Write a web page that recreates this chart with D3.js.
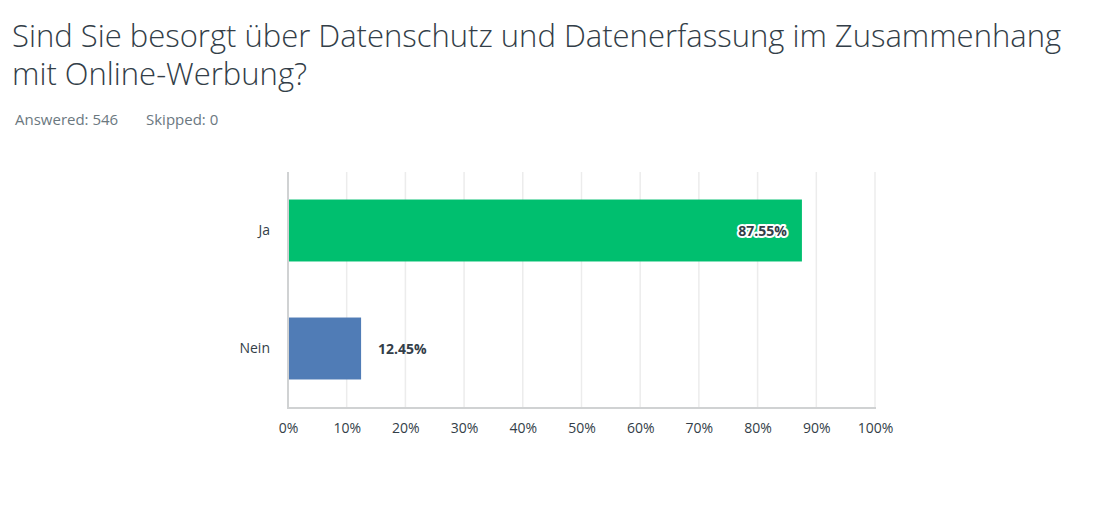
<!DOCTYPE html>
<html><head><meta charset="utf-8">
<script src="https://cdn.jsdelivr.net/npm/d3@7"></script>
<style>
body{margin:0;background:#fff;}
svg{display:block;}
</style></head>
<body><svg id="c" width="1106" height="513"></svg>
<script>
const titleLines = ["Sind Sie besorgt über Datenschutz und Datenerfassung im Zusammenhang", "mit Online-Werbung?"];
const answered = "Answered: 546";
const skipped = "Skipped: 0";
const categories = ["Ja", "Nein"];
const values = [87.55, 12.45];
const colors = ["#00bf6f", "#507cb6"];
const tickValues = [0,10,20,30,40,50,60,70,80,90,100];

const svg = d3.select("#c");
const font = "'Open Sans', 'Noto Sans', sans-serif";

const t = svg.append("text").attr("x", 13).attr("y", 47)
  .attr("font-family", font).attr("font-size", 31).attr("font-weight", 300).attr("fill", "#333e48");
titleLines.forEach((l, i) => t.append("tspan").attr("x", 12).attr("y", 47 + i*38).text(l));

svg.append("text").attr("x", 15).attr("y", 125).attr("font-family", font).attr("font-size", 15).attr("fill", "#6b787f").text(answered);
svg.append("text").attr("x", 146).attr("y", 125).attr("font-family", font).attr("font-size", 15).attr("fill", "#6b787f").text(skipped);

const x0 = 288, x1 = 875, y0 = 172, y1 = 408;
const x = d3.scaleLinear().domain([0,100]).range([x0, x1]);
const y = d3.scaleBand().domain(categories).range([y0, y1]).paddingInner(0.475).paddingOuter(0.2375);

const g = svg.append("g");
g.selectAll(".grid").data(tickValues.slice(1)).join("line")
  .attr("x1", d => x(d)).attr("x2", d => x(d)).attr("y1", y0).attr("y2", y1)
  .attr("stroke", "#ececec").attr("stroke-width", 1.5);

g.append("line").attr("x1", x0).attr("x2", x0).attr("y1", y0).attr("y2", y1+1).attr("stroke", "#d0d2d3").attr("stroke-width", 2);
g.append("line").attr("x1", x0).attr("x2", x1+1).attr("y1", y1).attr("y2", y1).attr("stroke", "#d0d2d3").attr("stroke-width", 2);

g.selectAll(".bar").data(categories).join("rect")
  .attr("x", x(0)+1).attr("y", d => y(d) - 0.5)
  .attr("width", (d,i) => x(values[i]) - x(0) - 1).attr("height", y.bandwidth())
  .attr("fill", (d,i) => colors[i]);

const xa = svg.append("g").attr("transform", `translate(0,${y1})`)
  .call(d3.axisBottom(x).tickValues(tickValues).tickFormat(d => d + "%").tickSize(0).tickPadding(15));
xa.select(".domain").remove();
xa.selectAll("text").attr("font-family", font).attr("font-size", 14).attr("fill", "#333e48");

const ya = svg.append("g").attr("transform", `translate(${x0},0)`)
  .call(d3.axisLeft(y).tickSize(0).tickPadding(18));
ya.select(".domain").remove();
ya.selectAll("text").attr("font-family", font).attr("font-size", 14).attr("fill", "#333e48");

categories.forEach((c, i) => {
  const inside = values[i] > 50;
  const tx = inside ? x(values[i]) - 15 : x(values[i]) + 17;
  const lbl = svg.append("text").attr("x", tx).attr("y", y(c) + y.bandwidth()/2).attr("dy", "0.35em")
    .attr("text-anchor", inside ? "end" : "start")
    .attr("font-family", font).attr("font-size", 14).attr("font-weight", 700).attr("fill", "#333e48")
    .text(values[i].toFixed(2) + "%");
  if (inside) lbl.attr("stroke", "#fff").attr("stroke-width", 4).attr("paint-order", "stroke").attr("stroke-linejoin", "round");
});
</script></body></html>
